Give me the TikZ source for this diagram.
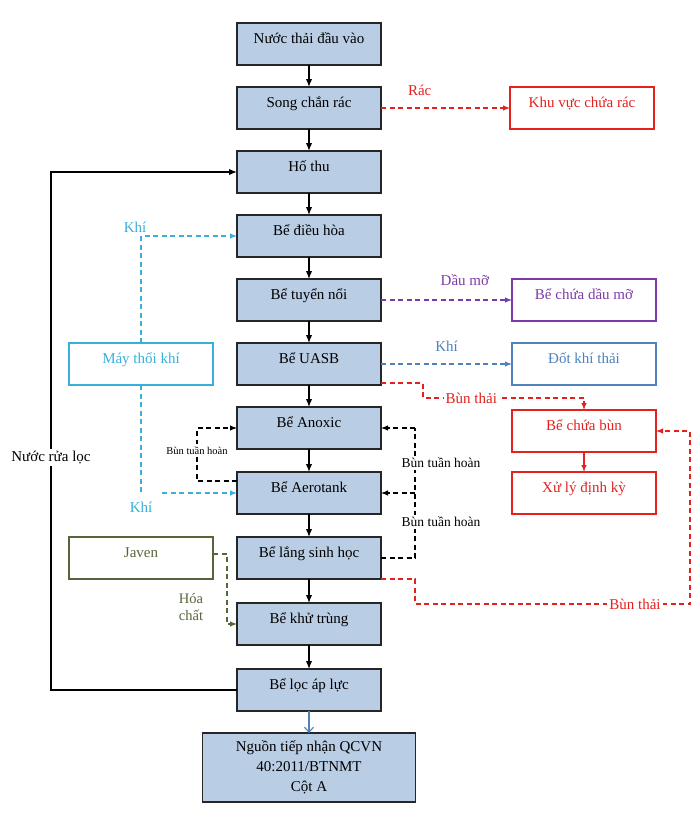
\documentclass[tikz,border=0pt]{standalone}
\usepackage{fontspec}
\setmainfont{Liberation Serif}
\usepackage{xcolor}
\usepackage{tikz}
\usetikzlibrary{positioning}
\usetikzlibrary{arrows.meta}

\definecolor{tankfill}{HTML}{B9CDE5}
\definecolor{wastered}{HTML}{E3221E}
\definecolor{oilpurple}{HTML}{7B3BA6}
\definecolor{gasblue}{HTML}{4F81BD}
\definecolor{aircyan}{HTML}{3AAFDA}
\definecolor{chemgreen}{HTML}{56663A}

\begin{document}
\begin{tikzpicture}[
  x=1pt, y=1pt,
  >={Latex[length=8pt,width=6.5pt]},
  font=\fontsize{15}{20}\selectfont,
  line width=0.8pt
]
\tikzset{
    boxbase/.style = {rectangle, outer sep=0pt, minimum width=144pt, minimum height=42pt},
    tanknode/.style = {boxbase, draw=black!85, line width=1.7pt, fill=tankfill, text height=11pt, text depth=12pt},
    endnode/.style = {boxbase, draw=black!85, line width=1.7pt, fill=tankfill, align=center},
    sidenode/.style = {boxbase, draw=#1, text=#1, line width=1.2pt, text height=11pt, text depth=12pt},
    flowline/.style = {draw=black, line width=1.4pt},
    dashline/.style = {draw=#1, line width=1.1pt, dash pattern=on 5pt off 3.5pt, >={Latex[length=7pt,width=5.5pt]}},
    edgelabel/.style = {text=#1, inner sep=2pt},
    gaplabel/.style = {text=#1, fill=white, inner sep=2pt}
}
\useasboundingbox (0,0) rectangle (695,-817);

\node[tanknode] (vao) at (309,-44) {Nước thải đầu vào};
\node[tanknode, below=22pt of vao] (song) {Song chắn rác};
\node[tanknode, below=22pt of song] (hothu) {Hố thu};
\node[tanknode, below=22pt of hothu] (dieuhoa) {Bể điều hòa};
\node[tanknode, below=22pt of dieuhoa] (tuyennoi) {Bể tuyển nổi};
\node[tanknode, below=22pt of tuyennoi] (uasb) {Bể UASB};
\node[tanknode, below=22pt of uasb] (anoxic) {Bể Anoxic};
\node[tanknode, below=23pt of anoxic] (aerotank) {Bể Aerotank};
\node[tanknode, below=23pt of aerotank] (lang) {Bể lắng sinh học};
\node[tanknode, below=24pt of lang] (khutrung) {Bể khử trùng};
\node[tanknode, below=24pt of khutrung] (loc) {Bể lọc áp lực};
\node[endnode, below=22pt of loc, minimum width=213pt, minimum height=69pt] (nguon) {Nguồn tiếp nhận QCVN\\40:2011/BTNMT\\Cột A};

\node[sidenode=wastered, right=129pt of song] (khuvuc) {Khu vực chứa rác};
\node[sidenode=oilpurple, right=131pt of tuyennoi] (chuadau) {Bể chứa dầu mỡ};
\node[sidenode=gasblue, right=131pt of uasb] (dotkhi) {Đốt khí thải};
\node[sidenode=wastered, below=25pt of dotkhi] (chuabun) {Bể chứa bùn};
\node[sidenode=wastered, below=20pt of chuabun] (xuly) {Xử lý định kỳ};
\node[sidenode=aircyan, left=24pt of uasb] (maythoi) {Máy thổi khí};
\node[sidenode=chemgreen, left=24pt of lang] (javen) {Javen};

\draw[flowline,->] (vao) -- (song);
\draw[flowline,->] (song) -- (hothu);
\draw[flowline,->] (hothu) -- (dieuhoa);
\draw[flowline,->] (dieuhoa) -- (tuyennoi);
\draw[flowline,->] (tuyennoi) -- (uasb);
\draw[flowline,->] (uasb) -- (anoxic);
\draw[flowline,->] (anoxic) -- (aerotank);
\draw[flowline,->] (aerotank) -- (lang);
\draw[flowline,->] (lang) -- (khutrung);
\draw[flowline,->] (khutrung) -- (loc);
\draw[draw=gasblue, line width=1.1pt, -{Straight Barb[length=5pt,width=9pt]}] (loc) -- (nguon);

\draw[dashline=wastered,->] (song.east) -- node[edgelabel=wastered, pos=0.3, above=10pt] (rac) {Rác} (khuvuc.west);
\draw[dashline=oilpurple,->] (tuyennoi.east) -- node[edgelabel=oilpurple, pos=0.64, above=12pt] (daumo) {Dầu mỡ} (chuadau.west);
\draw[dashline=gasblue,->] (uasb.east) -- node[edgelabel=gasblue, pos=0.5, above=10pt] (khia) {Khí} (dotkhi.west);
\draw[dashline=wastered,->] ([yshift=2pt]uasb.south east) -- ++(42pt,0) -- ++(0,-15pt) -| node[gaplabel=wastered, pos=0.15] (bunthaia) {Bùn thải} (chuabun.north);
\draw[wastered, line width=1.2pt, ->, >={Latex[length=7pt,width=5.5pt]}] (chuabun) -- (xuly);
\draw[dashline=wastered,->] (lang.south east) -- ++(34pt,0) -- ++(0,-25pt) -- node[gaplabel=wastered, pos=0.8] (bunthaib) {Bùn thải} ++(275pt,0) |- (chuabun.east);

\draw[dashline=black] (lang.east) -- ++(34pt,0) coordinate (rc) -- (rc |- anoxic.east);
\draw[dashline=black,->] (rc |- anoxic.east) -- (anoxic.east);
\draw[dashline=black,->] (rc |- aerotank.east) -- (aerotank.east);
\node[gaplabel=black, font=\fontsize{13.5}{15}\selectfont] (tuanhoana) at (441,-463) {Bùn tuần hoàn};
\node[gaplabel=black, font=\fontsize{13.5}{15}\selectfont] (tuanhoanb) at (441,-522) {Bùn tuần hoàn};
\draw[dashline=black,->] ([yshift=-9pt]aerotank.north west) -- ++(-40pt,0) |- node[gaplabel=black, pos=0.29, font=\fontsize{10.5}{12}\selectfont] (tuanhoanc) {Bùn tuần hoàn} (anoxic.west);

\draw[dashline=aircyan,->] (maythoi.north) |- node[edgelabel=aircyan, pos=0.5, above=1pt, xshift=-6pt] (khib) {Khí} (dieuhoa.west);
\coordinate (kb) at (maythoi.south |- aerotank.west);
\draw[dashline=aircyan] (maythoi.south) -- (kb);
\draw[dashline=aircyan,->] ([xshift=21pt]kb) -- (aerotank.west);
\node[edgelabel=aircyan] (khic) at ([yshift=-14pt]kb) {Khí};

\draw[dashline=chemgreen,->] ([yshift=4pt]javen.east) -- ++(14pt,0) |- (khutrung.west);
\node[edgelabel=chemgreen, align=center, font=\fontsize{14.5}{17}\selectfont] (hoachat) at (191,-607) {Hóa\\chất};

\draw[flowline,->] (loc.west) -- ++(-186pt,0) |- node[gaplabel=black, pos=0.224] (nuocrua) {Nước rửa lọc} (hothu.west);
\end{tikzpicture}
\end{document}
